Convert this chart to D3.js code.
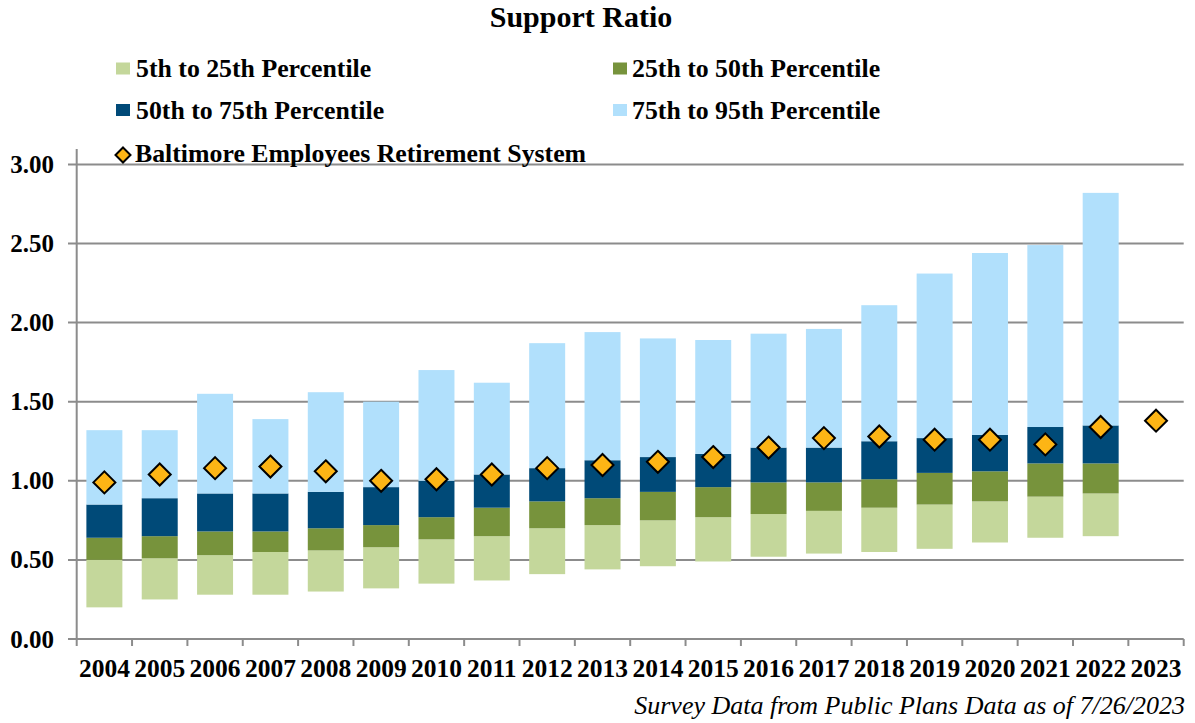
<!DOCTYPE html>
<html>
<head>
<meta charset="utf-8">
<script src="https://cdn.jsdelivr.net/npm/d3@7"></script>
<style>
  body { margin: 0; background: #fff; }
  text { font-family: "Liberation Serif", "Times New Roman", serif; }
</style>
</head>
<body>
<div id="chart"></div>
<script>
// ===== data =====
var years = ["2004","2005","2006","2007","2008","2009","2010","2011","2012","2013",
             "2014","2015","2016","2017","2018","2019","2020","2021","2022","2023"];
// percentile cut points per year (2023 has no survey data)
var p5  = [0.20,0.25,0.28,0.28,0.30,0.32,0.35,0.37,0.41,0.44,0.46,0.49,0.52,0.54,0.55,0.57,0.61,0.64,0.65,null];
var p25 = [0.50,0.51,0.53,0.55,0.56,0.58,0.63,0.65,0.70,0.72,0.75,0.77,0.79,0.81,0.83,0.85,0.87,0.90,0.92,null];
var p50 = [0.64,0.65,0.68,0.68,0.70,0.72,0.77,0.83,0.87,0.89,0.93,0.96,0.99,0.99,1.01,1.05,1.06,1.11,1.11,null];
var p75 = [0.85,0.89,0.92,0.92,0.93,0.96,1.00,1.04,1.08,1.13,1.15,1.17,1.21,1.21,1.25,1.27,1.29,1.34,1.35,null];
var p95 = [1.32,1.32,1.55,1.39,1.56,1.50,1.70,1.62,1.87,1.94,1.90,1.89,1.93,1.96,2.11,2.31,2.44,2.49,2.82,null];
var baltimore = [0.99,1.04,1.08,1.09,1.06,1.00,1.01,1.04,1.08,1.10,1.12,1.15,1.21,1.27,1.28,1.26,1.26,1.23,1.34,1.38];

var yTicks = [0, 0.5, 1, 1.5, 2, 2.5, 3];

var seriesNames = ["5th to 25th Percentile","25th to 50th Percentile","50th to 75th Percentile","75th to 95th Percentile"];
var colors = ["#c4d79b","#77933c","#004a78","#b1e0fc"];
var diamondColor = "#fdb515";

var width = 1195, height = 723;

var svg = d3.select("#chart")
    .append("svg")
    .attr("width", width)
    .attr("height", height)

var x = d3.scaleBand()
    .domain(years)
    .range([76.7, 1183.7])
    .paddingInner(0.35)
    .paddingOuter(0.175)

var y = d3.scaleLinear()
    .domain([0, 3])
    .range([639, 164.4])

var gridColor = "#8c8c8c"

// gridlines + y labels
svg.selectAll("line.grid")
    .data(yTicks)
    .enter()
    .append("line")
    .attr("class", "grid")
    .attr("x1", 68)
    .attr("x2", 1183.7)
    .attr("y1", function(d){ return y(d) })
    .attr("y2", function(d){ return y(d) })
    .attr("stroke", gridColor)
    .attr("stroke-width", 2)

svg.selectAll("text.ylab")
    .data(yTicks)
    .enter()
    .append("text")
    .attr("class", "ylab")
    .attr("x", 54)
    .attr("y", function(d){ return y(d) + 8.5 })
    .attr("text-anchor", "end")
    .attr("font-size", "25px")
    .attr("font-weight", "bold")
    .text(function(d){ return d3.format(".2f")(d) })

// y axis line
svg.append("line")
    .attr("x1", 76.7).attr("x2", 76.7)
    .attr("y1", 149).attr("y2", 639)
    .attr("stroke", gridColor)
    .attr("stroke-width", 2)

// x ticks at band edges
var edges = years.map(function(d){ return x(d) - x.step() * 0.175 })
edges.push(1183.7)
svg.selectAll("line.xtick")
    .data(edges)
    .enter()
    .append("line")
    .attr("x1", function(d){ return d })
    .attr("x2", function(d){ return d })
    .attr("y1", 639)
    .attr("y2", 646)
    .attr("stroke", gridColor)
    .attr("stroke-width", 2)

// stacked floating bars
var bounds = [p5, p25, p50, p75, p95]
for (var s = 0; s < 4; s++) {
    var segs = years.map(function(yr, i){
        return { year: yr, lo: bounds[s][i], hi: bounds[s+1][i] }
    }).filter(function(d){ return d.lo != null })

    svg.selectAll("rect.s" + s)
        .data(segs)
        .enter()
        .append("rect")
        .attr("class", "s" + s)
        .attr("x", function(d){ return x(d.year) })
        .attr("width", x.bandwidth())
        .attr("y", function(d){ return y(d.hi) })
        .attr("height", function(d){ return y(d.lo) - y(d.hi) })
        .attr("fill", colors[s])
}

// Baltimore diamonds
var diamond = function(r){ return "M0," + (-r) + "L" + r + ",0L0," + r + "L" + (-r) + ",0Z" }
svg.selectAll("path.bal")
    .data(baltimore)
    .enter()
    .append("path")
    .attr("class", "bal")
    .attr("d", diamond(11))
    .attr("transform", function(d, i){
        return "translate(" + (x(years[i]) + x.bandwidth()/2) + "," + y(d) + ")"
    })
    .attr("fill", diamondColor)
    .attr("stroke", "black")
    .attr("stroke-width", 2)

// x labels
svg.selectAll("text.xlab")
    .data(years)
    .enter()
    .append("text")
    .attr("class", "xlab")
    .attr("x", function(d){ return x(d) + x.bandwidth()/2 })
    .attr("y", 677)
    .attr("text-anchor", "middle")
    .attr("font-size", "25.5px")
    .attr("font-weight", "bold")
    .text(function(d){ return d })

// title
svg.append("text")
    .attr("x", 581)
    .attr("y", 27)
    .attr("text-anchor", "middle")
    .attr("font-size", "30px")
    .attr("font-weight", "bold")
    .text("Support Ratio")

// legend
var legendPos = [[116,77],[613,77],[116,118.5],[613,118.5]]
seriesNames.forEach(function(name, i){
    var p = legendPos[i]
    svg.append("rect")
        .attr("x", p[0]).attr("y", p[1] - 14.5)
        .attr("width", 14).attr("height", 12)
        .attr("fill", colors[i])
    svg.append("text")
        .attr("x", p[0] + (i % 2 == 0 ? 20 : 19))
        .attr("y", p[1])
        .attr("font-size", "25.8px")
        .attr("font-weight", "bold")
        .text(name)
})
svg.append("path")
    .attr("d", diamond(7.5))
    .attr("transform", "translate(123,155)")
    .attr("fill", diamondColor)
    .attr("stroke", "black")
    .attr("stroke-width", 2)
svg.append("text")
    .attr("x", 135)
    .attr("y", 162)
    .attr("font-size", "25.8px")
    .attr("font-weight", "bold")
    .text("Baltimore Employees Retirement System")

// footnote
svg.append("text")
    .attr("x", 1185)
    .attr("y", 714)
    .attr("text-anchor", "end")
    .attr("font-size", "26px")
    .attr("font-style", "italic")
    .text("Survey Data from Public Plans Data as of 7/26/2023")
</script>
</body>
</html>
